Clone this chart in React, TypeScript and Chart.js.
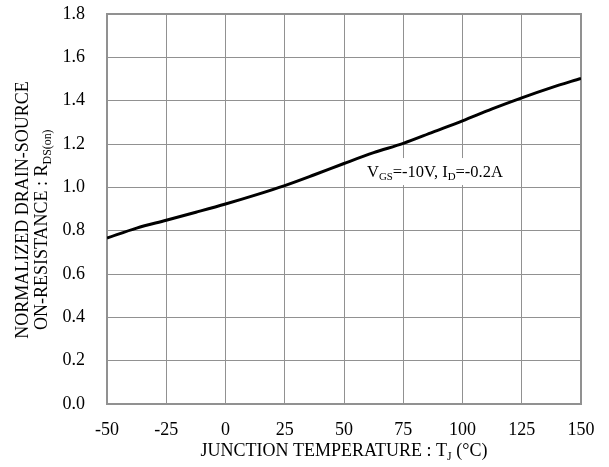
import React, { useEffect, useRef } from "react";
import { Chart, registerables } from "chart.js";
Chart.register(...registerables);

const temperatures = [-50, -37.5, -25, -12.5, 0, 12.5, 25, 37.5, 50, 62.5, 75, 87.5, 100, 112.5, 125, 137.5, 150];
const resistance = [0.766, 0.812, 0.848, 0.885, 0.923, 0.964, 1.008, 1.058, 1.11, 1.16, 1.203, 1.255, 1.307, 1.362, 1.413, 1.46, 1.503];
const xTicks = [-50, -25, 0, 25, 50, 75, 100, 125, 150];
const yTicks = [0, 0.2, 0.4, 0.6, 0.8, 1.0, 1.2, 1.4, 1.6, 1.8];

type Part = { t: string; sub?: boolean };
const xTitle: Part[] = [{ t: "JUNCTION TEMPERATURE : T" }, { t: "J", sub: true }, { t: " (°C)" }];
const yTitle1: Part[] = [{ t: "NORMALIZED DRAIN-SOURCE" }];
const yTitle2: Part[] = [{ t: "ON-RESISTANCE : R" }, { t: "DS(on)", sub: true }];
const note: Part[] = [{ t: "V" }, { t: "GS", sub: true }, { t: "=-10V, I" }, { t: "D", sub: true }, { t: "=-0.2A" }];
const noteAt = { x: 59.7, y: 1.0475 };

const FONT = "'Liberation Serif', 'Times New Roman', serif";
const GRID = "#919191";

function richWidth(ctx: CanvasRenderingContext2D, parts: Part[], size: number) {
  let w = 0;
  for (const p of parts) {
    ctx.font = `${p.sub ? size * 0.66 : size}px ${FONT}`;
    w += ctx.measureText(p.t).width;
  }
  return w;
}

function drawRich(ctx: CanvasRenderingContext2D, parts: Part[], x: number, y: number, size: number, align: "center" | "left") {
  const w = richWidth(ctx, parts, size);
  let cx = align === "center" ? x - w / 2 : x;
  ctx.textAlign = "left";
  ctx.textBaseline = "alphabetic";
  ctx.fillStyle = "#000";
  for (const p of parts) {
    const s = p.sub ? size * 0.66 : size;
    ctx.font = `${s}px ${FONT}`;
    ctx.fillText(p.t, cx, p.sub ? y + size * 0.2 : y);
    cx += ctx.measureText(p.t).width;
  }
}

const decorPlugin = {
  id: "decor",
  beforeDatasetsDraw(chart: any) {
    const ctx = chart.ctx as CanvasRenderingContext2D;
    const a = chart.chartArea;
    ctx.save();
    ctx.strokeStyle = GRID;
    ctx.lineWidth = 2;
    ctx.strokeRect(a.left, a.top, a.right - a.left, a.bottom - a.top);
    ctx.restore();
  },
  afterDatasetsDraw(chart: any) {
    const ctx = chart.ctx as CanvasRenderingContext2D;
    const xs = chart.scales.x;
    const ys = chart.scales.y;
    ctx.save();
    const ax = xs.getPixelForValue(noteAt.x);
    const ay = ys.getPixelForValue(noteAt.y);
    const w = richWidth(ctx, note, 16.5);
    ctx.fillStyle = "#fff";
    ctx.fillRect(ax - 3, ay - 19, w + 6, 27);
    drawRich(ctx, note, ax, ay, 16.5, "left");
    ctx.restore();
  },
  afterDraw(chart: any) {
    const ctx = chart.ctx as CanvasRenderingContext2D;
    const area = chart.chartArea;
    ctx.save();
    drawRich(ctx, xTitle, (area.left + area.right) / 2, 456, 18, "center");
    ctx.translate(28, 210);
    ctx.rotate(-Math.PI / 2);
    drawRich(ctx, yTitle1, 0, 0, 18, "center");
    ctx.restore();
    ctx.save();
    ctx.translate(47, 330);
    ctx.rotate(-Math.PI / 2);
    drawRich(ctx, yTitle2, 0, 0, 18, "left");
    ctx.restore();
  },
};

export default function App() {
  const ref = useRef<HTMLCanvasElement>(null);
  useEffect(() => {
    if (!ref.current) return;
    const chart = new Chart(ref.current, {
      type: "line",
      data: {
        datasets: [
          {
            data: temperatures.map((t, i) => ({ x: t, y: resistance[i] })),
            borderColor: "#000",
            borderWidth: 3,
            pointRadius: 0,
            cubicInterpolationMode: "monotone",
            fill: false,
          },
        ],
      },
      options: {
        responsive: false,
        animation: false,
        events: [],
        layout: { padding: { left: 0, right: 28, top: 14, bottom: 0 } },
        plugins: { legend: { display: false }, tooltip: { enabled: false } },
        scales: {
          x: {
            type: "linear",
            min: -50,
            max: 150,
            afterBuildTicks: (s: any) => {
              s.ticks = xTicks.map((v) => ({ value: v }));
            },
            afterFit: (s: any) => {
              s.height = 63;
              s.paddingLeft = 0;
              s.paddingRight = 0;
            },
            ticks: { color: "#000", font: { family: FONT, size: 18 }, padding: 15, maxRotation: 0, autoSkip: false },
            grid: { color: GRID, lineWidth: 1, drawTicks: false },
            border: { color: GRID, width: 2 },
          },
          y: {
            type: "linear",
            min: 0,
            max: 1.8,
            afterBuildTicks: (s: any) => {
              s.ticks = yTicks.map((v) => ({ value: v }));
            },
            afterFit: (s: any) => {
              s.width = 107;
              s.paddingTop = 0;
              s.paddingBottom = 0;
            },
            ticks: {
              color: "#000",
              font: { family: FONT, size: 18 },
              padding: 22,
              autoSkip: false,
              callback: (v: any) => Number(v).toFixed(1),
            },
            grid: { color: GRID, lineWidth: 1, drawTicks: false },
            border: { color: GRID, width: 2 },
          },
        },
      },
      plugins: [decorPlugin],
    });
    return () => chart.destroy();
  }, []);
  return (
    <div style={{ position: "fixed", left: 0, top: 0, width: 609, height: 467, background: "#fff" }}>
      <canvas ref={ref} width={609} height={467} style={{ display: "block" }} />
    </div>
  );
}
